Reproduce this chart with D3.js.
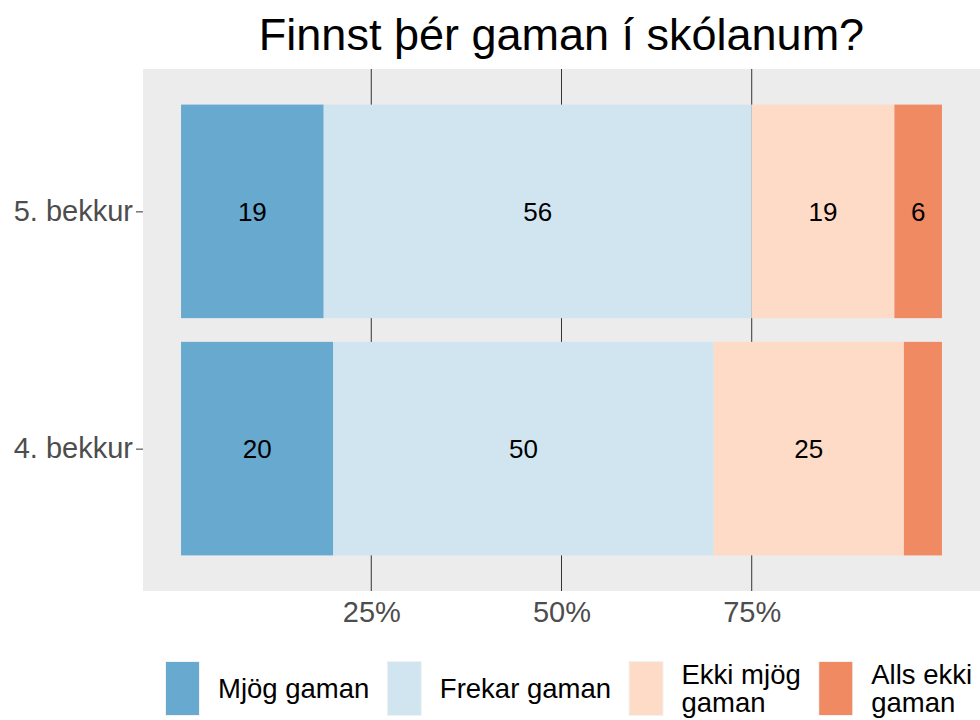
<!DOCTYPE html>
<html>
<head>
<meta charset="utf-8">
<script src="https://cdn.jsdelivr.net/npm/d3@7"></script>
<style>
  body { margin: 0; background: #fff; }
  svg { font-family: "Liberation Sans", Arial, sans-serif; }
</style>
</head>
<body>
<script>
const width = 980;
const height = 720;

const classes = ['5. bekkur', '4. bekkur'];
const answers = ['Mjög gaman', 'Frekar gaman', 'Ekki mjög gaman', 'Alls ekki gaman'];
const legendLines = [['Mjög gaman'], ['Frekar gaman'], ['Ekki mjög', 'gaman'], ['Alls ekki', 'gaman']];
const colors = ['#67a9cf', '#d1e5f0', '#fddbc7', '#ef8a62'];
// percent per answer, same order as classes
const grade5 = [18.75, 56.25, 18.75, 6.25];
const grade4 = [20, 50, 25, 5];
const xTicks = [25, 50, 75];

const panel = { left: 143, right: 980, top: 69, bottom: 591 };

const svg = d3.select('body').append('svg')
  .attr('width', width)
  .attr('height', height);

svg.append('text')
  .attr('x', (panel.left + panel.right) / 2)
  .attr('y', 50)
  .attr('text-anchor', 'middle')
  .attr('font-size', 45)
  .attr('fill', '#000')
  .text('Finnst þér gaman í skólanum?');

svg.append('rect')
  .attr('x', panel.left).attr('y', panel.top)
  .attr('width', panel.right - panel.left)
  .attr('height', panel.bottom - panel.top)
  .attr('fill', '#ececec');

// ggplot-like 5% expansion
const span = panel.right - panel.left;
const x = d3.scaleLinear().domain([0, 100])
  .range([panel.left + span * 0.05 / 1.1, panel.right - span * 0.05 / 1.1]);
// 0.6 expansion for discrete axis
const y = d3.scalePoint().domain(classes).range([panel.top, panel.bottom]).padding(0.6);
const barH = y.step() * 0.9;

svg.append('g').selectAll('line').data(xTicks).join('line')
  .attr('x1', d => x(d)).attr('x2', d => x(d))
  .attr('y1', panel.top).attr('y2', panel.bottom)
  .attr('stroke', '#333').attr('stroke-width', 1);

const rows = [grade5, grade4].map((vals, r) => {
  let acc = 0;
  return vals.map((v, i) => {
    const seg = { cls: classes[r], i, v, x0: acc, x1: acc + v };
    acc += v;
    return seg;
  });
}).flat();

svg.append('g').selectAll('rect').data(rows).join('rect')
  .attr('x', d => x(d.x0))
  .attr('width', d => x(d.x1) - x(d.x0))
  .attr('y', d => y(d.cls) - barH / 2)
  .attr('height', barH)
  .attr('fill', d => colors[d.i]);

svg.append('g').selectAll('text').data(rows.filter(d => d.v > 5.5)).join('text')
  .attr('x', d => x((d.x0 + d.x1) / 2))
  .attr('y', d => y(d.cls))
  .attr('dy', '0.36em')
  .attr('text-anchor', 'middle')
  .attr('font-size', 26)
  .attr('fill', '#000')
  .text(d => Math.round(d.v));

// x axis: labels only
const xAxis = d3.axisBottom(x).tickValues(xTicks).tickSize(0).tickPadding(10)
  .tickFormat(d => d + '%');
const gx = svg.append('g').attr('transform', `translate(0,${panel.bottom})`).call(xAxis);
gx.select('.domain').remove();
gx.selectAll('text').attr('font-size', 29).attr('fill', '#4d4d4d')
  .attr('font-family', '"Liberation Sans", Arial, sans-serif');

const yAxis = d3.axisLeft(y).tickSize(7).tickPadding(3);
const gy = svg.append('g').attr('transform', `translate(${panel.left},0)`).call(yAxis);
gy.select('.domain').remove();
gy.selectAll('line').attr('stroke', '#333');
gy.selectAll('text').attr('font-size', 29).attr('fill', '#4d4d4d')
  .attr('font-family', '"Liberation Sans", Arial, sans-serif');

// legend
const legend = svg.append('g');
let lx = 165;
const keyW = 35, keyH = 55, keyTop = 661;
answers.forEach((a, i) => {
  const item = legend.append('g');
  item.append('rect').attr('x', lx).attr('y', keyTop).attr('width', keyW).attr('height', keyH)
    .attr('fill', '#f2f2f2');
  item.append('rect').attr('x', lx + 1).attr('y', keyTop + 1).attr('width', keyW - 2).attr('height', keyH - 2)
    .attr('fill', colors[i]);
  const lines = legendLines[i];
  const t = item.append('text').attr('font-size', 27.5).attr('fill', '#000');
  const mid = keyTop + keyH / 2;
  lines.forEach((ln, k) => {
    t.append('tspan')
      .attr('x', lx + keyW + 18)
      .attr('y', mid + (k - (lines.length - 1) / 2) * 28)
      .attr('dy', '0.36em')
      .text(ln);
  });
  lx += keyW + 18 + t.node().getBBox().width + 17.5;
});
</script>
</body>
</html>
